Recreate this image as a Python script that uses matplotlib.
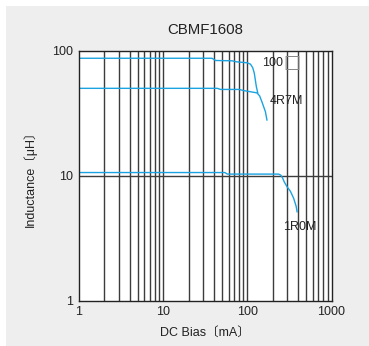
import matplotlib
matplotlib.use("Agg")
import matplotlib.pyplot as plt
from matplotlib.patches import Rectangle

plt.rcParams['font.family'] = ['Liberation Sans', 'Noto Sans CJK JP', 'DejaVu Sans']
plt.rcParams['font.size'] = 9

# Datos (corriente en mA, inductancia en uH)
bias_100 = [1, 38, 42, 66, 74, 100, 109, 116, 121, 128, 133]
ind_100 = [87, 87, 83.5, 83, 81.5, 80, 78, 73, 66, 51.5, 46]

bias_4r7 = [1, 44, 48, 80, 90, 130, 140, 149, 164, 171]
ind_4r7 = [50, 50, 49, 49, 48, 46, 43.5, 39, 32.5, 27.9]

bias_1r0 = [1, 54, 58, 235, 250, 262, 275, 295, 325, 355, 380, 390]
ind_1r0 = [10.6, 10.6, 10.3, 10.3, 10.1, 9.6, 8.9, 8.2, 7.5, 6.6, 5.7, 5.15]

x_ticks = [1, 10, 100, 1000]
y_ticks = [1, 10, 100]

azul = "#1ba3e1"
gris_grid = "#3c3c3c"

fig = plt.figure(figsize=(3.69, 3.46), dpi=100)
fig.patch.set_facecolor("white")
fig.patches.append(Rectangle((6 / 369, 0), 1, 1 - 6 / 346, transform=fig.transFigure,
                             facecolor="#eeeeee", edgecolor="none", zorder=-10))

ax = fig.add_axes([79 / 369, 1 - 300.7 / 346, 252.5 / 369, 250 / 346])
ax.set_zorder(1)
ax.set_xscale("log")
ax.set_yscale("log")
ax.set_xlim(1, 1000)
ax.set_ylim(1, 100)
ax.set_facecolor("white")

# rejilla vertical en todas las décadas, horizontal solo en 10
for dec in (1, 10, 100):
    for k in range(1, 10):
        v = dec * k
        if 1 < v < 1000:
            ax.axvline(v, color=gris_grid, linewidth=1.0, zorder=1)
ax.axhline(10, color=gris_grid, linewidth=1.0, zorder=1)

ax.plot(bias_100, ind_100, color=azul, linewidth=1.0, zorder=3)
ax.plot(bias_4r7, ind_4r7, color=azul, linewidth=1.0, zorder=3)
ax.plot(bias_1r0, ind_1r0, color=azul, linewidth=1.0, zorder=3)

ax.text(150, 79.7, "100", ha="left", va="center", color="#222222", zorder=4)
ax.text(266, 79.7, "□", ha="left", va="center", color="#888888", fontsize=13,
        family=['DejaVu Sans'], zorder=4)
ax.text(183, 39.8, "4R7M", ha="left", va="center", color="#222222", zorder=4)
ax.text(268, 3.89, "1R0M", ha="left", va="center", color="#222222", zorder=4)

ax.set_xticks(x_ticks)
ax.set_xticklabels([str(v) for v in x_ticks])
ax.set_yticks(y_ticks)
ax.set_yticklabels([str(v) for v in y_ticks])
ax.minorticks_off()
ax.tick_params(length=0, pad=4, colors="#222222")
for s in ax.spines.values():
    s.set_color("#222222")
    s.set_linewidth(1.0)
    s.set_zorder(5)

ax.set_title("CBMF1608", pad=12, color="#222222")
ax.set_xlabel("DC Bias〔mA〕", color="#222222", labelpad=6)
ax.set_ylabel("Inductance〔μH〕", color="#222222", labelpad=11)

fig.savefig("out.png", dpi=100, facecolor=fig.get_facecolor())
